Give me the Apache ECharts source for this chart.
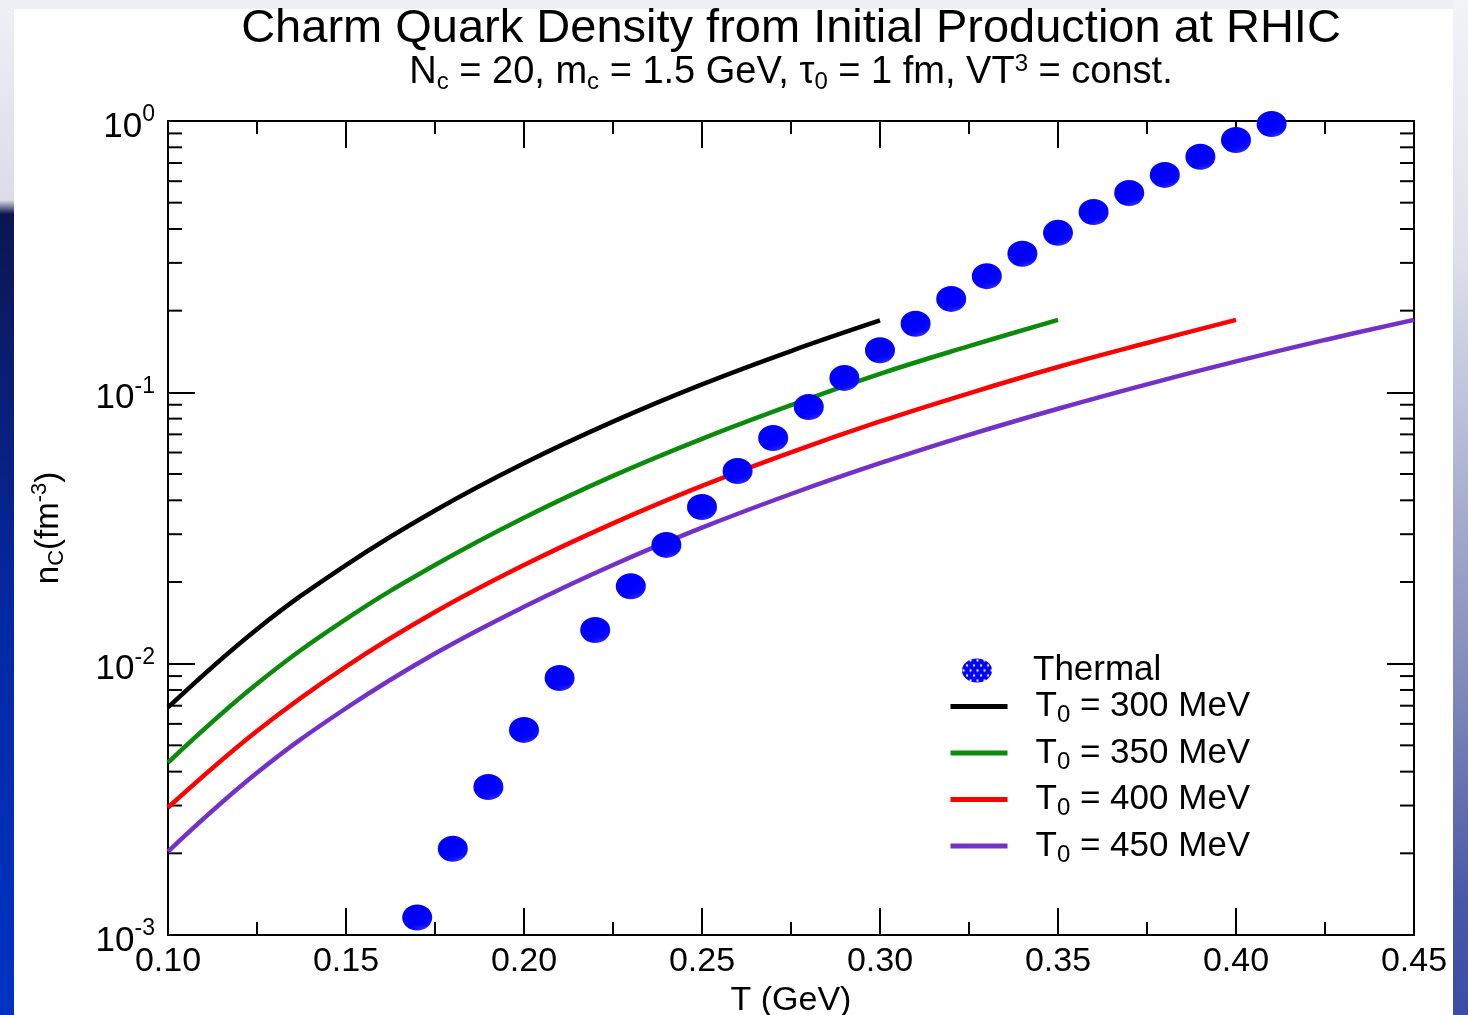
<!DOCTYPE html>
<html>
<head>
<meta charset="utf-8">
<script src="https://cdn.jsdelivr.net/npm/echarts@6/dist/echarts.min.js"></script>
<style>
  html, body { margin: 0; padding: 0; width: 1468px; height: 1015px; overflow: hidden; background: #eff0f5; }
  #leftStrip { position: absolute; left: 0; top: 0; width: 14px; height: 1015px;
    background: linear-gradient(to bottom, #eff0f5 0px, #dadde8 200px, #0b1650 214px, #0a1c6e 350px, #0428a0 600px, #0033c4 1015px); }
  #rightStrip { position: absolute; left: 1453px; top: 0; width: 15px; height: 1015px;
    background: linear-gradient(to bottom, #f2f3f7 0px, #dfe1ea 250px, #a9aed0 500px, #7d86b8 700px, #4a58a8 900px, #3c4ca6 1015px); }
  #panel { position: absolute; left: 14px; top: 9px; width: 1439px; height: 1006px; background: #ffffff; }
  #chart { position: absolute; left: 0; top: 0; width: 1468px; height: 1015px; }
</style>
</head>
<body>
<div id="leftStrip"></div>
<div id="rightStrip"></div>
<div id="panel"></div>
<div id="chart"></div>
<script>
// ---- data ----
const thermalT = [0.17, 0.18, 0.19, 0.20, 0.21, 0.22, 0.23, 0.24, 0.25, 0.26, 0.27, 0.28, 0.29,
                  0.30, 0.31, 0.32, 0.33, 0.34, 0.35, 0.36, 0.37, 0.38, 0.39, 0.40, 0.41];
const thermalN = [0.00116, 0.00208, 0.00351, 0.00570, 0.00885, 0.0133, 0.0193, 0.0274, 0.0378, 0.0513,
                  0.0679, 0.0883, 0.113, 0.143, 0.179, 0.221, 0.268, 0.324, 0.387, 0.462,
                  0.543, 0.633, 0.738, 0.851, 0.975];

const curveT = [0.100, 0.125, 0.150, 0.175, 0.200, 0.225, 0.250, 0.275, 0.300, 0.325, 0.350, 0.375, 0.400, 0.425, 0.450];
const n300 = [0.00690, 0.0134, 0.0231, 0.0367, 0.0548, 0.0780, 0.107, 0.142, 0.184];
const n350 = [0.00432, 0.00843, 0.0146, 0.0231, 0.0345, 0.0492, 0.0674, 0.0897, 0.117, 0.148, 0.185];
const n400 = [0.00295, 0.00565, 0.00976, 0.0155, 0.0231, 0.0329, 0.0452, 0.0601, 0.0781, 0.0992, 0.124, 0.152, 0.185];
const n450 = [0.00203, 0.00396, 0.00685, 0.0109, 0.0162, 0.0231, 0.0317, 0.0422, 0.0548, 0.0697, 0.0870, 0.107, 0.130, 0.156, 0.185];

const seriesNames = ['Thermal', 'T0 = 300 MeV', 'T0 = 350 MeV', 'T0 = 400 MeV', 'T0 = 450 MeV'];

const titleText = 'Charm Quark Density from Initial Production at RHIC';
const subtitleText = 'N{sub|c} = 20, m{sub|c} = 1.5 GeV, τ{sub|0} = 1 fm, VT{sup|3} = const.';
const xName = 'T (GeV)';
const yName = 'n{sub|C}(fm{sup|-3})';

const xMin = 0.10, xMax = 0.45, xStep = 0.05;
const yMin = 0.001, yMax = 1;
const yMinorTicks = [0.002, 0.003, 0.004, 0.005, 0.006, 0.007, 0.008, 0.009,
                     0.02, 0.03, 0.04, 0.05, 0.06, 0.07, 0.08, 0.09,
                     0.2, 0.3, 0.4, 0.5, 0.6, 0.7, 0.8, 0.9];

// ---- styling ----
const FONT = 'Liberation Sans, Arial, Helvetica, sans-serif';
const lineColors = ['#000000', '#0b8a0b', '#ff0000', '#7331c8'];
const ellipsePath = 'path://M0,1A1,1 0 1,0 2,1A1,1 0 1,0 0,1Z';
const GRID = { left: 168, right: 54, top: 121, bottom: 80 };
const W = 1468;
const plotCenterX = (GRID.left + (W - GRID.right)) / 2;

function makeDotPattern() {
  const c = document.createElement('canvas');
  c.width = 7; c.height = 10;
  const g = c.getContext('2d');
  g.fillStyle = '#0000ff';
  g.fillRect(0, 0, 7, 10);
  g.fillStyle = '#ffffff';
  [[1.5, 2], [5, 7]].forEach(([x, y]) => { g.beginPath(); g.arc(x, y, 1.15, 0, Math.PI * 2); g.fill(); });
  return c;
}
const dotFill = { image: makeDotPattern(), repeat: 'repeat' };

const zipT = (arr) => arr.map((v, i) => [curveT[i], v]);

const chart = echarts.init(document.getElementById('chart'), null, { renderer: 'canvas', width: 1468, height: 1015 });

const supRich = {
  b: { fontSize: 35, fontFamily: FONT, color: '#000', padding: [12, 0, 0, 0] },
  s: { fontSize: 23, fontFamily: FONT, color: '#000', padding: [0, 0, 12, 0] }
};
const axisLineStyle = { color: '#000', width: 2 };
const subSupRich = (small, off) => ({
  sub: { fontFamily: FONT, fontSize: small, color: '#000', padding: [off, 0, 0, 0] },
  sup: { fontFamily: FONT, fontSize: small, color: '#000', padding: [0, 0, off, 0] }
});

const lineSeries = (name, arr, color) => ({
  name: name, type: 'line', data: zipT(arr), symbol: 'none', smooth: 0.4,
  lineStyle: { color: color, width: 4.5 }, itemStyle: { color: color }, z: 2
});

const option = {
  animation: false,
  backgroundColor: 'transparent',
  graphic: [
    {
      type: 'text', x: plotCenterX, y: 6, silent: true,
      style: { text: titleText, fontFamily: FONT, fontSize: 47, fill: '#000', align: 'center', verticalAlign: 'top' }
    },
    {
      type: 'text', x: plotCenterX, y: 52, silent: true,
      style: {
        text: subtitleText, fontFamily: FONT, fontSize: 38, fill: '#000', align: 'center', verticalAlign: 'top',
        rich: subSupRich(24, 18)
      }
    }
  ],
  grid: { left: GRID.left, right: GRID.right, top: GRID.top, bottom: GRID.bottom,
          containLabel: false, outerBoundsMode: 'none' },
  legend: [
    {
      data: [{ name: 'Thermal', icon: ellipsePath }],
      orient: 'vertical', left: 962, top: 653, padding: 0,
      itemWidth: 30, itemHeight: 24, symbolKeepAspect: false, selectedMode: false,
      textStyle: { fontFamily: FONT, fontSize: 35, color: '#000', padding: [0, 0, 0, 36] }
    },
    {
      data: seriesNames.slice(1),
      orient: 'vertical', left: 948, top: 689, padding: 0,
      itemWidth: 57, itemHeight: 40, itemGap: 8, selectedMode: false,
      itemStyle: { color: 'transparent', opacity: 0, borderWidth: 0 },
      lineStyle: { width: 5 },
      formatter: (name) => name.replace('T0', 'T{sub|0}'),
      textStyle: {
        fontFamily: FONT, fontSize: 35, color: '#000', padding: [0, 0, 0, 23],
        rich: { sub: { fontFamily: FONT, fontSize: 24, color: '#000', padding: [18, 0, 0, 0] } }
      }
    }
  ],
  xAxis: [
    {
      type: 'value', min: xMin, max: xMax, interval: xStep, position: 'bottom',
      name: xName, nameLocation: 'middle', nameGap: 44,
      nameTextStyle: { fontFamily: FONT, fontSize: 34, color: '#000' },
      axisLine: { show: true, onZero: false, lineStyle: axisLineStyle },
      axisTick: { show: true, inside: true, length: 27, lineStyle: axisLineStyle },
      minorTick: { show: true, splitNumber: 2, length: 13, lineStyle: axisLineStyle },
      splitLine: { show: false },
      axisLabel: { show: true, margin: 10, fontFamily: FONT, fontSize: 34, color: '#000',
                   formatter: (v) => v.toFixed(2), showMinLabel: true, showMaxLabel: true }
    },
    {
      type: 'value', min: xMin, max: xMax, interval: xStep, position: 'top',
      axisLine: { show: true, onZero: false, lineStyle: axisLineStyle },
      axisTick: { show: true, inside: true, length: 27, lineStyle: axisLineStyle },
      minorTick: { show: true, splitNumber: 2, length: 13, lineStyle: axisLineStyle },
      splitLine: { show: false },
      axisLabel: { show: false }
    }
  ],
  yAxis: [
    {
      type: 'log', logBase: 10, min: yMin, max: yMax, position: 'left',
      name: yName, nameLocation: 'middle', nameGap: 100, nameRotate: 90,
      nameTextStyle: {
        fontFamily: FONT, fontSize: 33, color: '#000',
        rich: subSupRich(22, 17)
      },
      axisLine: { show: true, onZero: false, lineStyle: axisLineStyle },
      axisTick: { show: true, inside: true, length: 27, lineStyle: axisLineStyle },
      splitLine: { show: false },
      axisLabel: {
        show: true, margin: 13, showMinLabel: true, showMaxLabel: true,
        formatter: (v) => '{b|10}{s|' + Math.round(Math.log10(v)) + '}',
        rich: supRich
      }
    },
    {
      type: 'log', logBase: 10, min: yMin, max: yMax, position: 'right',
      axisLine: { show: true, onZero: false, lineStyle: axisLineStyle },
      axisTick: { show: true, inside: true, length: 27, lineStyle: axisLineStyle },
      splitLine: { show: false },
      axisLabel: { show: false }
    }
  ],
  series: [
    {
      name: 'yMinorTicks', type: 'custom', silent: true, xAxisIndex: 0, yAxisIndex: 0,
      data: yMinorTicks.map((v) => [xMin, v]),
      renderItem: function (params, api) {
        const v = api.value(1);
        const pL = api.coord([xMin, v]);
        const pR = api.coord([xMax, v]);
        const st = { stroke: '#000', lineWidth: 2 };
        return {
          type: 'group',
          children: [
            { type: 'line', shape: { x1: pL[0], y1: pL[1], x2: pL[0] + 14, y2: pL[1] }, style: st },
            { type: 'line', shape: { x1: pR[0] - 14, y1: pR[1], x2: pR[0], y2: pR[1] }, style: st }
          ]
        };
      },
      z: 1
    },
    lineSeries(seriesNames[1], n300, lineColors[0]),
    lineSeries(seriesNames[2], n350, lineColors[1]),
    lineSeries(seriesNames[3], n400, lineColors[2]),
    lineSeries(seriesNames[4], n450, lineColors[3]),
    {
      name: seriesNames[0], type: 'scatter',
      data: thermalT.map((t, i) => [t, thermalN[i]]),
      symbol: ellipsePath, symbolSize: [30, 26],
      itemStyle: { color: dotFill, opacity: 1 }, z: 3
    }
  ]
};

chart.setOption(option);
</script>
</body>
</html>
